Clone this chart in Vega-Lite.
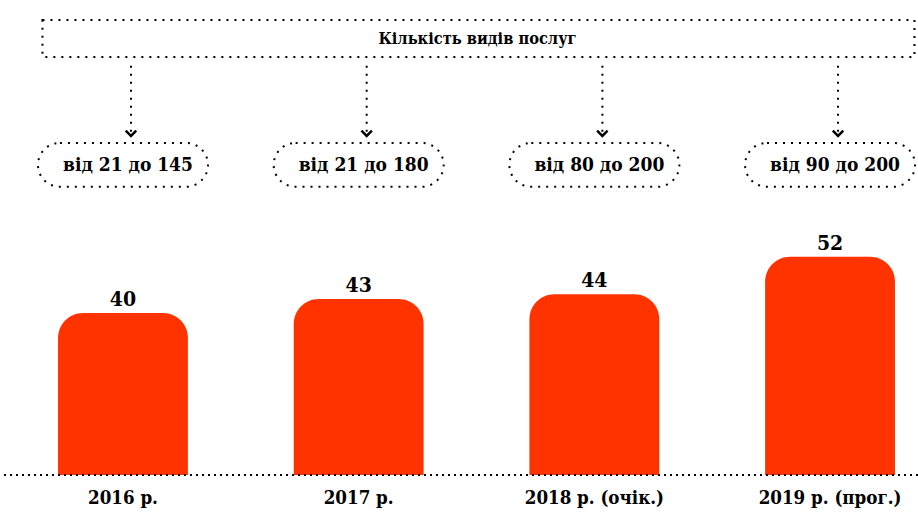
{
  "$schema": "https://vega.github.io/schema/vega-lite/v6.json",
  "width": 918,
  "height": 513,
  "autosize": {"type": "none"},
  "padding": 0,
  "background": "white",
  "config": {"view": {"stroke": null}, "font": "DejaVu Serif Condensed"},
  "data": {
    "values": [
      {"year": "2016 р.", "count": 40, "range": "від 21 до 145"},
      {"year": "2017 р.", "count": 43, "range": "від 21 до 180"},
      {"year": "2018 р. (очік.)", "count": 44, "range": "від 80 до 200"},
      {"year": "2019 р. (прог.)", "count": 52, "range": "від 90 до 200"}
    ]
  },
  "resolve": {"scale": {"x": "shared", "y": "shared"}},
  "layer": [
    {
      "data": {"values": [{"label": "Кількість видів послуг"}]},
      "mark": {"type": "rect", "fill": "white", "stroke": "black", "strokeWidth": 2, "strokeDash": [2, 6]},
      "encoding": {
        "x": {"datum": "2016 р.", "bandPosition": -0.12, "type": "nominal",
              "scale": {"domain": ["2016 р.", "2017 р.", "2018 р. (очік.)", "2019 р. (прог.)"], "paddingInner": 0.449, "paddingOuter": 0.172, "align": 0.716},
              "axis": null},
        "x2": {"datum": "2019 р. (прог.)", "bandPosition": 1.15},
        "y": {"datum": 102.7, "type": "quantitative", "scale": {"domain": [-2.84, 107], "zero": false, "nice": false}, "axis": null},
        "y2": {"datum": 94.8}
      }
    },
    {
      "data": {"values": [{"label": "Кількість видів послуг"}]},
      "mark": {"type": "text", "font": "DejaVu Serif Condensed", "fontSize": 16.3, "fontWeight": "bold", "baseline": "middle", "align": "center", "color": "black"},
      "encoding": {
        "x": {"datum": "2018 р. (очік.)", "bandPosition": -0.4, "type": "nominal"},
        "y": {"datum": 98.7, "type": "quantitative"},
        "text": {"field": "label"}
      }
    },
    {
      "mark": {"type": "rule", "stroke": "black", "strokeWidth": 2, "strokeDash": [2, 6], "xOffset": 8},
      "encoding": {
        "x": {"field": "year", "type": "nominal"},
        "y": {"datum": 92.9, "type": "quantitative"},
        "y2": {"datum": 78.2}
      }
    },
    {
      "mark": {"type": "point", "shape": "M-1,-1L0,0L1,-1", "filled": false, "stroke": "black", "strokeWidth": 2.5, "size": 110, "opacity": 1, "xOffset": 8},
      "encoding": {
        "x": {"field": "year", "type": "nominal"},
        "y": {"datum": 77.9, "type": "quantitative"}
      }
    },
    {
      "mark": {"type": "bar", "width": 170, "fill": "white", "stroke": "black", "strokeWidth": 2, "strokeDash": [2, 6], "cornerRadius": 22},
      "encoding": {
        "x": {"field": "year", "type": "nominal"},
        "y": {"datum": 76.4, "type": "quantitative"},
        "y2": {"datum": 67.0}
      }
    },
    {
      "mark": {"type": "text", "font": "DejaVu Serif Condensed", "fontSize": 19, "fontWeight": "bold", "baseline": "middle", "align": "center", "color": "black", "dx": 5},
      "encoding": {
        "x": {"field": "year", "type": "nominal"},
        "y": {"datum": 71.7, "type": "quantitative"},
        "text": {"field": "range"}
      }
    },
    {
      "mark": {"type": "bar", "color": "#FF3300", "cornerRadiusTopLeft": 25, "cornerRadiusTopRight": 25},
      "encoding": {
        "x": {"field": "year", "type": "nominal"},
        "y": {"field": "count", "type": "quantitative"},
        "y2": {"datum": 5.3}
      }
    },
    {
      "mark": {"type": "text", "font": "DejaVu Serif Condensed", "fontSize": 21, "fontWeight": "bold", "baseline": "alphabetic", "align": "center", "color": "black", "dy": -7},
      "encoding": {
        "x": {"field": "year", "type": "nominal"},
        "y": {"field": "count", "type": "quantitative"},
        "text": {"field": "count"}
      }
    },
    {
      "mark": {"type": "rule", "stroke": "black", "strokeWidth": 2, "strokeDash": [2, 4]},
      "encoding": {
        "y": {"datum": 5.3, "type": "quantitative"}
      }
    },
    {
      "mark": {"type": "text", "font": "DejaVu Serif Condensed", "fontSize": 18.6, "fontWeight": "bold", "baseline": "middle", "align": "center", "color": "black", "dy": 23},
      "encoding": {
        "x": {"field": "year", "type": "nominal"},
        "y": {"datum": 5.3, "type": "quantitative"},
        "text": {"field": "year"}
      }
    }
  ]
}
